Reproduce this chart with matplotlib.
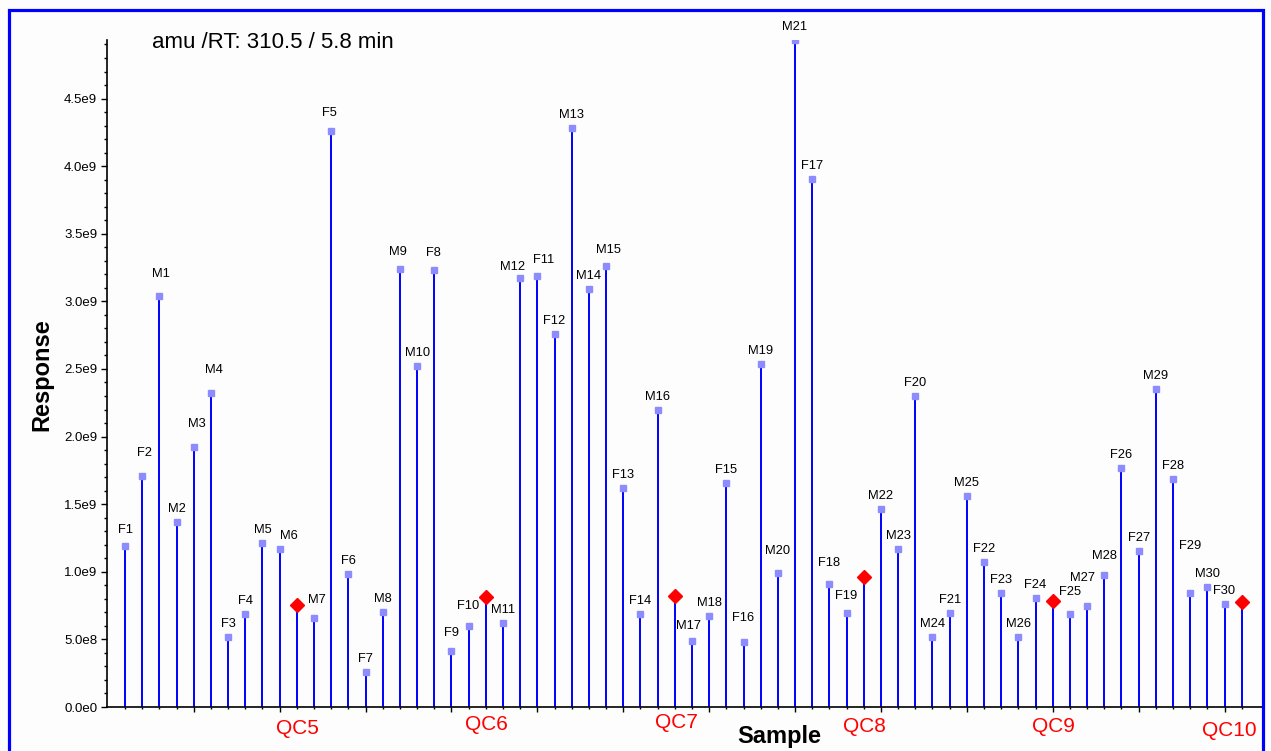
import numpy as np
import matplotlib
matplotlib.use('Agg')
import matplotlib.pyplot as plt
from matplotlib.ticker import MultipleLocator

# Sample order as injected
sample_names = ['F1', 'F2', 'M1', 'M2', 'M3', 'M4', 'F3', 'F4', 'M5', 'M6', 'QC5',
                'M7', 'F5', 'F6', 'F7', 'M8', 'M9', 'M10', 'F8', 'F9', 'F10', 'QC6',
                'M11', 'M12', 'F11', 'F12', 'M13', 'M14', 'M15', 'F13', 'F14', 'M16', 'QC7',
                'M17', 'M18', 'F15', 'F16', 'M19', 'M20', 'M21', 'F17', 'F18', 'F19', 'QC8',
                'M22', 'M23', 'F20', 'M24', 'F21', 'M25', 'F22', 'F23', 'M26', 'F24', 'QC9',
                'F25', 'M27', 'M28', 'F26', 'F27', 'M29', 'F28', 'F29', 'M30', 'F30', 'QC10']

# Response in units of 1e9
response = [1.19, 1.71, 3.04, 1.37, 1.92, 2.32, 0.515, 0.686, 1.21, 1.17, 0.752,
            0.656, 4.26, 0.98, 0.259, 0.70, 3.24, 2.52, 3.23, 0.417, 0.601, 0.816,
            0.624, 3.17, 3.19, 2.757, 4.285, 3.09, 3.26, 1.62, 0.686, 2.20, 0.823,
            0.49, 0.675, 1.657, 0.48, 2.535, 0.989, 4.93, 3.905, 0.91, 0.695, 0.964,
            1.462, 1.169, 2.30, 0.52, 0.695, 1.563, 1.075, 0.841, 0.52, 0.804, 0.786,
            0.688, 0.75, 0.974, 1.768, 1.156, 2.35, 1.684, 0.841, 0.89, 0.76, 0.777]

ytick_values = [0.0, 0.5, 1.0, 1.5, 2.0, 2.5, 3.0, 3.5, 4.0, 4.5]
ytick_labels = ['0.0e0', '5.0e8', '1.0e9', '1.5e9', '2.0e9', '2.5e9',
                '3.0e9', '3.5e9', '4.0e9', '4.5e9']

title = 'amu /RT: 310.5 / 5.8 min'

# label placement nudges (dx, dy) in pixels, default is centred 13px above
label_nudge = {'F1': (0, 16), 'F2': (2, 23), 'M1': (2, 22), 'M3': (3, 23), 'M4': (3, 23),
               'M6': (9, 13), 'M7': (3, 18), 'F5': (-2, 18), 'M9': (-2, 17), 'F8': (-1, 17),
               'F9': (0, 18), 'F10': (-1, 20), 'M17': (-3, 15), 'F16': (0, 24), 'M20': (0, 22),
               'F18': (0, 21), 'F19': (0, 17), 'M12': (-8, 11), 'F11': (6, 16), 'M15': (2, 16),
               'F25': (0, 22), 'M27': (-5, 28), 'M28': (0, 19), 'F29': (0, 47)}
qc_nudge = {'QC5': (1, -21), 'QC6': (1, -17), 'QC7': (2, -15), 'QC8': (1, -20),
            'QC9': (1, -19), 'QC10': (-12, -24)}

plt.rcParams['font.family'] = ['Liberation Sans', 'DejaVu Sans']

W, H = 1271, 751
fig = plt.figure(figsize=(W / 100, H / 100), dpi=100)
fig.patch.set_facecolor('#fdfdfd')

ax = fig.add_axes([107 / W, 44 / H, (1262 - 107) / W, (707 - 40) / H])
ax.set_facecolor('#fdfdfd')

x = np.arange(len(sample_names))
y = np.array(response) * 1e9
is_qc = np.array([n.startswith('QC') for n in sample_names])

# stems
ax.vlines(x, 0, y, color='#0000ff', lw=1.4, zorder=2)
# sample markers
ax.plot(x[~is_qc], y[~is_qc], 's', ms=4, color='#8c8cff', mec='#8c8cff', zorder=3)
# QC markers
ax.plot(x[is_qc], y[is_qc], 'D', ms=7, color='#ff0000', mec='#ff0000', zorder=4)

for i, name in enumerate(sample_names):
    if is_qc[i]:
        dx, dy = qc_nudge[name]
        ax.annotate(name, (x[i], 0), xytext=(dx, dy), textcoords='offset pixels',
                    ha='center', va='center', fontsize=15, color='#ff0000',
                    annotation_clip=False)
    else:
        dx, dy = label_nudge.get(name, (0, 13))
        ax.annotate(name, (x[i], y[i]), xytext=(dx, dy), textcoords='offset pixels',
                    ha='center', va='center', fontsize=9.3, color='black')

ax.set_xlim(-1.05, 66.18)
ax.set_ylim(0, 4.933e9)

ax.set_yticks(np.array(ytick_values) * 1e9)
ax.set_yticklabels(ytick_labels, fontsize=9.5)
ax.yaxis.set_minor_locator(MultipleLocator(0.1e9))
ax.set_xticks(x[4::5])
ax.set_xticklabels([])
ax.set_xticks(x, minor=True)

ax.tick_params(axis='y', which='major', length=4, width=1, pad=3)
ax.tick_params(axis='y', which='minor', length=2, width=1)
ax.tick_params(axis='x', which='major', length=3.5, width=1)
ax.tick_params(axis='x', which='minor', length=1.5, width=1)

for side in ['top', 'right']:
    ax.spines[side].set_visible(False)
ax.spines['left'].set_linewidth(1.2)
ax.spines['bottom'].set_linewidth(1.2)

fig.text(152 / W, 1 - 42 / H, title, ha='left', va='center', fontsize=16)
fig.text(42 / W, 1 - 375 / H, 'Response', rotation=90, ha='center', va='center',
         fontsize=17, fontweight='bold')
fig.text(779 / W, 1 - 736 / H, 'Sample', ha='center', va='center',
         fontsize=17, fontweight='bold')

# blue frame round the plot
fig.add_artist(plt.Rectangle((9 / W, -0.1), (1263 - 9) / W, 1.1 - 10 / H,
                             fill=False, edgecolor='#0000ff', lw=2.3,
                             transform=fig.transFigure))

fig.savefig('out.png', dpi=100, facecolor=fig.get_facecolor())
